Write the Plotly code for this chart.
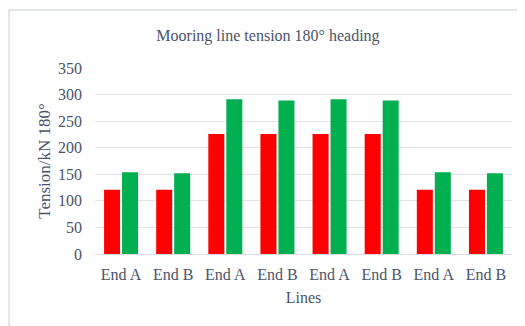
import plotly.graph_objects as go

labels = ["End A", "End B", "End A", "End B", "End A", "End B", "End A", "End B"]
series_red = [121, 121, 226, 226, 226, 226, 121, 121]
series_green = [154, 152, 291, 289, 291, 289, 154, 152]
y_ticks = [0, 50, 100, 150, 200, 250, 300, 350]

x = list(range(len(labels)))
txt = "#4a5468"
font = "Liberation Serif"

fig = go.Figure()
fig.add_trace(go.Bar(x=x, y=series_red, marker=dict(color="#ff0000", line=dict(width=0)), name="A"))
fig.add_trace(go.Bar(x=x, y=series_green, marker=dict(color="#00b050", line=dict(width=0)), name="B"))

fig.update_layout(
    width=525, height=326,
    margin=dict(l=87, r=21, t=60, b=80),
    paper_bgcolor="white", plot_bgcolor="white",
    showlegend=False,
    barmode="group", bargap=0.31, bargroupgap=0.11,
    font=dict(family=font, size=16, color=txt),
    title=dict(text="Mooring line tension 180° heading", x=(268 - 8) / 525, xanchor="center",
               y=1 - 27 / 326, yanchor="middle", font=dict(family=font, size=16, color=txt)),
    xaxis=dict(tickmode="array", tickvals=x, ticktext=labels, showgrid=False,
               showline=True, linecolor="#d9dde3", linewidth=1, ticks="",
               ticklabelstandoff=6,
               title=dict(text="Lines", font=dict(size=16, color=txt), standoff=9),
               range=[-0.5, len(labels) - 0.5]),
    yaxis=dict(range=[0, 350], tickmode="array", tickvals=y_ticks, showgrid=True,
               gridcolor="#e1e4ea", gridwidth=1, zeroline=False, ticks="",
               ticklabelstandoff=12,
               title=dict(text="Tension/kN 180°", font=dict(size=17, color=txt), standoff=3)),
)

fig.add_shape(type="rect", xref="paper", yref="paper",
              x0=(1 - 87) / 417, x1=1.2, y0=-0.6, y1=1 + (60 - 2) / 186,
              line=dict(color="#d9dde3", width=1.5), fillcolor="rgba(0,0,0,0)", layer="below")

fig.write_html("out.html")
